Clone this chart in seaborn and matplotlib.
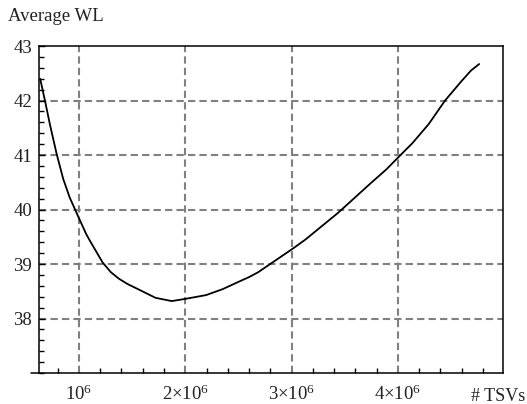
import numpy as np
import pandas as pd
import matplotlib
matplotlib.use("Agg")
import matplotlib.pyplot as plt
from matplotlib.ticker import MultipleLocator
import seaborn as sns

# valores (x en millones de TSVs)
tsvs_millones = [0.635, 0.681, 0.728, 0.790, 0.852, 0.913, 0.991, 1.068, 1.102, 1.222,
                 1.300, 1.376, 1.460, 1.565, 1.720, 1.873, 2.000, 2.196, 2.353, 2.520,
                 2.600, 2.686, 2.814, 3.010, 3.131, 3.438, 3.743, 3.894, 4.010, 4.138,
                 4.291, 4.444, 4.596, 4.688, 4.765]
average_wl = [42.40, 41.99, 41.55, 41.02, 40.56, 40.22, 39.88, 39.55, 39.43, 39.03,
              38.85, 38.73, 38.63, 38.53, 38.38, 38.32, 38.36, 38.43, 38.54, 38.69,
              38.76, 38.85, 39.02, 39.28, 39.45, 39.94, 40.48, 40.74, 40.97, 41.22,
              41.57, 42.00, 42.35, 42.55, 42.67]

xticks = [1e6, 2e6, 3e6, 4e6]
xtick_labels = [r"$10^6$", r"2×$10^6$", r"3×$10^6$", r"4×$10^6$"]
yticks = [38, 39, 40, 41, 42, 43]

data = pd.DataFrame({
    "tsvs": np.array(tsvs_millones) * 1e6,
    "wl": average_wl,
})

sns.set_style("white")
plt.rcParams["font.family"] = ["Liberation Serif", "DejaVu Serif"]
plt.rcParams["mathtext.fontset"] = "custom"
plt.rcParams["mathtext.rm"] = "Liberation Serif"
plt.rcParams["mathtext.it"] = "Liberation Serif"

fig = plt.figure(figsize=(5.27, 4.04), dpi=100)
ax = fig.add_axes([0.074, 0.0767, 0.88, 0.8093])

sns.lineplot(data=data, x="tsvs", y="wl", ax=ax, color="black", linewidth=1.3)

ax.set_xlim(0.624e6, 4.987e6)
ax.set_ylim(37, 43)

ax.set_xticks(xticks)
ax.set_xticklabels(xtick_labels)
ax.set_yticks(yticks)
ax.xaxis.set_minor_locator(MultipleLocator(2e5))
ax.yaxis.set_minor_locator(MultipleLocator(0.2))

ax.tick_params(which="both", direction="in", bottom=True, left=True, top=False,
               right=False, labelsize=13.5, colors="black", labelcolor="#222222",
               width=1.0)
ax.tick_params(which="major", length=4.5, pad=5)
ax.tick_params(which="minor", length=3.6)
ax.tick_params(axis="x", which="major", length=0, pad=8)

# rejilla discontinua gris
for v in xticks:
    ax.axvline(v, color="#808080", linewidth=1.5, linestyle=(0, (3.5, 2)), zorder=0)
for v in yticks[:-1]:
    ax.axhline(v, color="#808080", linewidth=1.5, linestyle=(0, (3.5, 2)), zorder=0)

for s in ax.spines.values():
    s.set_color("black")
    s.set_linewidth(1.1)
# el eje x sobresale un poco a la izquierda
ax.plot([-0.017, 0], [0, 0], transform=ax.transAxes, clip_on=False,
        color="black", linewidth=1.1)

ax.set_xlabel("")
ax.set_ylabel("")
fig.text(0.997, 0.0075, "# TSVs", ha="right", va="baseline",
         fontsize=13, color="#222222")
fig.text(0.015, 0.958, "Average WL", ha="left", va="center", fontsize=13.5,
         color="#222222")

fig.savefig("out.png", dpi=100)
